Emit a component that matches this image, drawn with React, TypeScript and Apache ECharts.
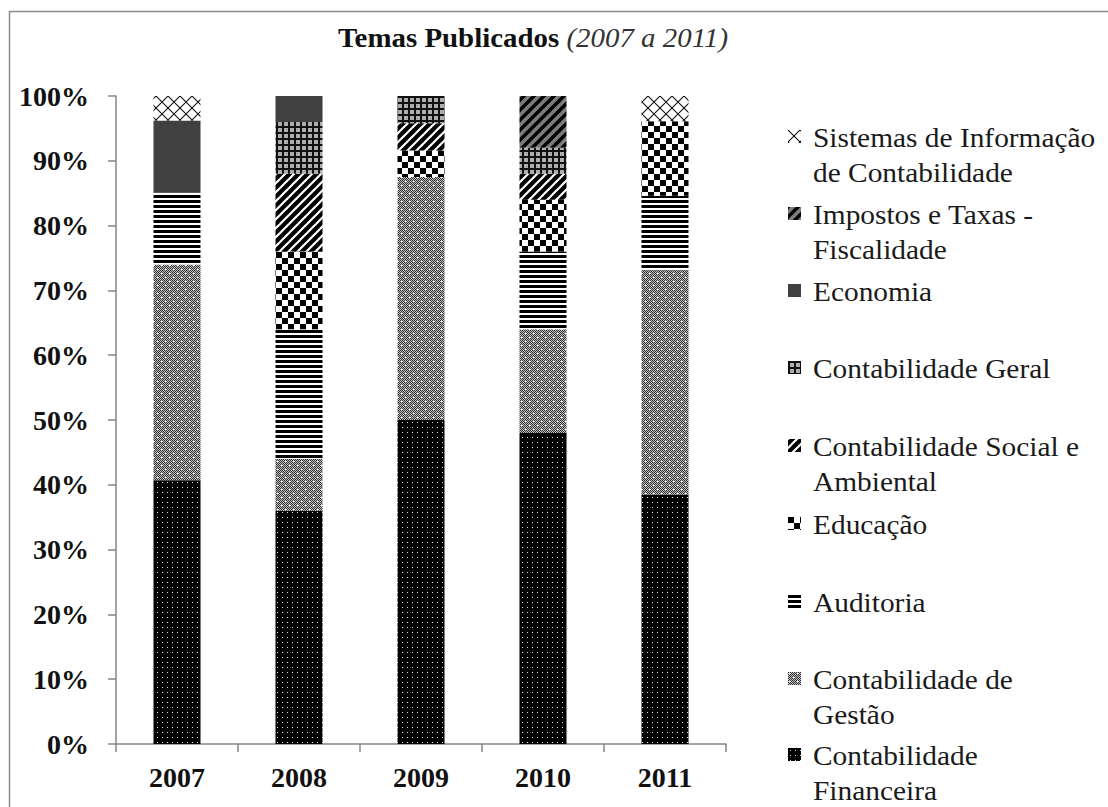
import React, { useEffect, useRef } from "react";
import * as echarts from "echarts";

// Share of published themes per year (% of that year's articles)
const years = ["2007", "2008", "2009", "2010", "2011"];
const financeira = [40.7, 36.0, 50.0, 48.0, 38.5];
const gestao = [33.3, 8.0, 37.5, 16.0, 34.6];
const auditoria = [11.1, 20.0, 0, 12.0, 11.5];
const educacao = [0, 12.0, 4.1, 8.0, 11.5];
const socialAmbiental = [0, 12.0, 4.2, 4.0, 0];
const geral = [0, 8.0, 4.2, 4.0, 0];
const economia = [11.1, 4.0, 0, 0, 0];
const impostos = [0, 0, 0, 8.0, 0];
const sistemas = [3.8, 0, 0, 0, 3.9];

const yTicks = [0, 10, 20, 30, 40, 50, 60, 70, 80, 90, 100];

const FONT = "Liberation Serif";

type Paint = (ctx: CanvasRenderingContext2D, w: number, h: number) => void;

function tileCanvas(w: number, h: number, paint: Paint) {
  const c = document.createElement("canvas");
  c.width = w;
  c.height = h;
  paint(c.getContext("2d")!, w, h);
  return c;
}

function diagonal(ctx: CanvasRenderingContext2D, s: number, rising: boolean) {
  for (const d of [-s, 0, s]) {
    ctx.beginPath();
    if (rising) {
      ctx.moveTo(d - 1, s + 1);
      ctx.lineTo(d + s + 1, -1);
    } else {
      ctx.moveTo(d - 1, -1);
      ctx.lineTo(d + s + 1, s + 1);
    }
    ctx.stroke();
  }
}

function buildTiles() {
  const dotted = tileCanvas(5, 5, (ctx) => {
    ctx.fillStyle = "#000";
    ctx.fillRect(0, 0, 5, 5);
    ctx.fillStyle = "#e6e6e6";
    ctx.fillRect(2, 2, 1, 1);
  });
  const grayDots = tileCanvas(8, 8, (ctx) => {
    for (let y = 0; y < 8; y++)
      for (let x = 0; x < 8; x++) {
        ctx.fillStyle = (x + y) % 2 === 0 ? "#2e2e2e" : "#c4c4c4";
        ctx.fillRect(x, y, 1, 1);
      }
    ctx.fillStyle = "#ffffff";
    ctx.fillRect(1, 1, 2, 1);
    ctx.fillRect(5, 5, 2, 1);
  });
  const hStripes = tileCanvas(4, 5, (ctx) => {
    ctx.fillStyle = "#fff";
    ctx.fillRect(0, 0, 4, 5);
    ctx.fillStyle = "#000";
    ctx.fillRect(0, 0, 4, 3);
  });
  const checker = tileCanvas(12, 12, (ctx) => {
    ctx.fillStyle = "#fff";
    ctx.fillRect(0, 0, 12, 12);
    ctx.fillStyle = "#000";
    ctx.fillRect(0, 0, 6, 6);
    ctx.fillRect(6, 6, 6, 6);
  });
  const wideDiag = tileCanvas(9, 9, (ctx) => {
    ctx.fillStyle = "#000";
    ctx.fillRect(0, 0, 9, 9);
    ctx.strokeStyle = "#fff";
    ctx.lineWidth = 2.2;
    diagonal(ctx, 9, true);
  });
  const plaid = tileCanvas(6, 6, (ctx) => {
    ctx.fillStyle = "#adadad";
    ctx.fillRect(0, 0, 6, 6);
    ctx.fillStyle = "#111";
    ctx.fillRect(0, 0, 6, 2);
    ctx.fillRect(0, 0, 2, 6);
  });
  const solid = tileCanvas(4, 4, (ctx) => {
    ctx.fillStyle = "#404040";
    ctx.fillRect(0, 0, 4, 4);
  });
  const grayDiag = tileCanvas(10, 10, (ctx) => {
    ctx.fillStyle = "#7c7c7c";
    ctx.fillRect(0, 0, 10, 10);
    ctx.strokeStyle = "#000";
    ctx.lineWidth = 3.4;
    diagonal(ctx, 10, true);
  });
  const crossHatch = tileCanvas(12, 12, (ctx) => {
    ctx.fillStyle = "#fff";
    ctx.fillRect(0, 0, 12, 12);
    ctx.strokeStyle = "#111";
    ctx.lineWidth = 1.1;
    diagonal(ctx, 12, true);
    diagonal(ctx, 12, false);
  });
  return { dotted, grayDots, hStripes, checker, wideDiag, plaid, solid, grayDiag, crossHatch };
}

function asPattern(c: HTMLCanvasElement) {
  return { image: c, repeat: "repeat", imageWidth: c.width, imageHeight: c.height } as any;
}

// Small legend swatch filled with the same tile, anchored at the swatch corner
function swatch(c: HTMLCanvasElement, size: number) {
  const s = document.createElement("canvas");
  s.width = size;
  s.height = size;
  const ctx = s.getContext("2d")!;
  ctx.fillStyle = ctx.createPattern(c, "repeat")!;
  ctx.fillRect(0, 0, size, size);
  return s.toDataURL();
}

// Legend rows, top to bottom, with the centre y of each entry's first line
const legendRows = [
  { name: "Sistemas de Informação de Contabilidade", lines: ["Sistemas de Informação", "de Contabilidade"], y: 137 },
  { name: "Impostos e Taxas - Fiscalidade", lines: ["Impostos e Taxas -", "Fiscalidade"], y: 214 },
  { name: "Economia", lines: ["Economia"], y: 291 },
  { name: "Contabilidade Geral", lines: ["Contabilidade Geral"], y: 368 },
  { name: "Contabilidade Social e Ambiental", lines: ["Contabilidade Social e", "Ambiental"], y: 446 },
  { name: "Educação", lines: ["Educação"], y: 524 },
  { name: "Auditoria", lines: ["Auditoria"], y: 602 },
  { name: "Contabilidade de Gestão", lines: ["Contabilidade de", "Gestão"], y: 679 },
  { name: "Contabilidade Financeira", lines: ["Contabilidade", "Financeira"], y: 755 },
];
const LEGEND_LINE = 35;

export default function App() {
  const ref = useRef<HTMLDivElement>(null);

  useEffect(() => {
    document.body.style.margin = "0";
    const chart = echarts.init(ref.current!, null, { renderer: "svg" });
    const t = buildTiles();

    const seriesDefs = [
      { name: "Contabilidade Financeira", data: financeira, tile: t.dotted },
      { name: "Contabilidade de Gestão", data: gestao, tile: t.grayDots },
      { name: "Auditoria", data: auditoria, tile: t.hStripes },
      { name: "Educação", data: educacao, tile: t.checker },
      { name: "Contabilidade Social e Ambiental", data: socialAmbiental, tile: t.wideDiag },
      { name: "Contabilidade Geral", data: geral, tile: t.plaid },
      { name: "Economia", data: economia, tile: t.solid },
      { name: "Impostos e Taxas - Fiscalidade", data: impostos, tile: t.grayDiag },
      { name: "Sistemas de Informação de Contabilidade", data: sistemas, tile: t.crossHatch },
    ];
    const tileByName: Record<string, HTMLCanvasElement> = {};
    seriesDefs.forEach((s) => (tileByName[s.name] = s.tile));

    const legendGraphics: any[] = [];
    legendRows.forEach((row) => {
      const size = 13;
      legendGraphics.push({
        type: "image",
        silent: true,
        style: {
          image: swatch(tileByName[row.name], size),
          x: 788,
          y: row.y - 7,
          width: size,
          height: size,
        },
      });
      row.lines.forEach((line, i) => {
        legendGraphics.push({
          type: "text",
          silent: true,
          x: 813,
          y: row.y + i * LEGEND_LINE,
          scaleX: 1.05,
          style: {
            text: line,
            fontFamily: FONT,
            fontSize: 28,
            fill: "#1a1a1a",
            lineHeight: 28,
            verticalAlign: "middle",
          },
        });
      });
    });

    chart.setOption({
      animation: false,
      backgroundColor: "#ffffff",
      grid: { left: 116, top: 96, width: 610, height: 648, containLabel: false },
      xAxis: {
        type: "category",
        data: years,
        axisLine: { lineStyle: { color: "#868686", width: 1.5 } },
        axisTick: { show: true, length: 8, lineStyle: { color: "#868686", width: 1.5 } },
        axisLabel: {
          fontFamily: FONT,
          fontSize: 28,
          fontWeight: "bold",
          color: "#111",
          margin: 19,
        },
      },
      yAxis: {
        type: "value",
        min: yTicks[0],
        max: yTicks[yTicks.length - 1],
        interval: yTicks[1] - yTicks[0],
        axisLine: { show: true, lineStyle: { color: "#868686", width: 1.5 } },
        axisTick: { show: true, length: 8, lineStyle: { color: "#868686", width: 1.5 } },
        splitLine: { show: false },
        axisLabel: {
          formatter: "{value}%",
          fontFamily: FONT,
          fontSize: 28,
          fontWeight: "bold",
          color: "#111",
          margin: 27,
        },
      },
      series: seriesDefs.map((s) => ({
        name: s.name,
        type: "bar",
        stack: "temas",
        barWidth: 47,
        data: s.data,
        itemStyle: { color: asPattern(s.tile) },
        emphasis: { disabled: true },
      })),
      graphic: [
        {
          type: "rect",
          silent: true,
          shape: { x: 9.5, y: 11.5, width: 1200, height: 900 },
          style: { fill: "none", stroke: "#8a8a8a", lineWidth: 1.5 },
        },
        {
          type: "text",
          silent: true,
          x: 338,
          y: 38,
          scaleX: 1.07,
          style: {
            text: "{b|Temas Publicados}{i| (2007 a 2011)}",
            verticalAlign: "middle",
            rich: {
              b: { fontFamily: FONT, fontSize: 27, fontWeight: "bold", fill: "#111" },
              i: { fontFamily: FONT, fontSize: 27, fontStyle: "italic", fontWeight: "normal", fill: "#333" },
            },
          },
        },
        ...legendGraphics,
      ],
    });

    return () => chart.dispose();
  }, []);

  return <div ref={ref} style={{ width: 1108, height: 807 }} />;
}
